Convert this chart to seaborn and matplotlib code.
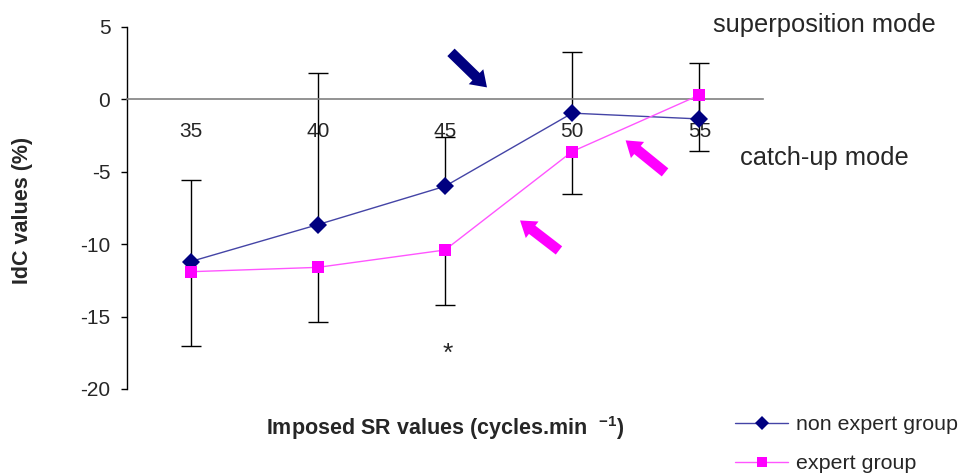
import numpy as np
import pandas as pd
import matplotlib
matplotlib.use("Agg")
import matplotlib.pyplot as plt
import seaborn as sns
from matplotlib.patches import FancyArrowPatch

# ---- data ----
sr_values = ["35", "40", "45", "50", "55"]
non_expert = [-11.2, -8.65, -6.0, -0.95, -1.35]
expert = [-11.9, -11.6, -10.4, -3.6, 0.3]
non_expert_err_up = [5.6, 10.45, 3.4, 4.25, 3.85]
expert_err_down = [5.1, 3.75, 3.8, 2.95, 3.85]
group_names = ["non expert group", "expert group"]
y_ticks = [-20, -15, -10, -5, 0, 5]

sns.set_style("white")
plt.rcParams["font.family"] = ["Liberation Sans", "DejaVu Sans"]
plt.rcParams["axes.unicode_minus"] = False
plt.rcParams["mathtext.fontset"] = "custom"
plt.rcParams["mathtext.rm"] = "Liberation Sans"
plt.rcParams["mathtext.bf"] = "Liberation Sans:bold"

df = pd.DataFrame({
    "SR": sr_values * 2,
    "IdC": non_expert + expert,
    "group": [group_names[0]] * len(sr_values) + [group_names[1]] * len(sr_values),
})

fig = plt.figure(figsize=(9.62, 4.74), dpi=100)
W, H = 962, 474
ax = fig.add_axes([127 / W, 85 / H, 636 / W, 362 / H])

palette = {group_names[0]: "#000080", group_names[1]: "#ff00ff"}
line_colors = {group_names[0]: "#4444a6", group_names[1]: "#ff55ff"}
markers = {group_names[0]: "D", group_names[1]: "s"}

# one-sided error bars (non-expert upward, expert downward)
xpos = np.arange(len(sr_values))
ne_top = np.array(non_expert) + np.array(non_expert_err_up)
ex_bot = np.array(expert) - np.array(expert_err_down)
ax.vlines(xpos, non_expert, ne_top, colors="black", linewidth=1, zorder=1)
ax.vlines(xpos, expert, ex_bot, colors="black", linewidth=1, zorder=1)
ax.plot(xpos, ne_top, ls="none", marker="_", markersize=14, mew=1, color="black", zorder=1)
ax.plot(xpos, ex_bot, ls="none", marker="_", markersize=14, mew=1, color="black", zorder=1)

sns.lineplot(data=df, x="SR", y="IdC", hue="group", style="group",
             palette=palette, markers=markers, dashes=False, ax=ax,
             linewidth=1.0, markersize=9, markeredgewidth=0, zorder=3,
             sort=False)

handles, labels = ax.get_legend_handles_labels()
if ax.get_legend() is not None:
    ax.get_legend().remove()

# lighter thin connecting lines, saturated markers
for ln in ax.lines:
    if ln.get_marker() in (None, "None", "", "_"):
        continue
    fc = matplotlib.colors.to_hex(ln.get_markerfacecolor()).lower()
    for g, c in palette.items():
        if fc == matplotlib.colors.to_hex(c).lower():
            ln.set_color(line_colors[g])
            ln.set_markerfacecolor(c)
            ln.set_markeredgecolor(c)
for h, lab in zip(handles, labels):
    if lab in palette:
        h.set_color(line_colors[lab])
        h.set_markerfacecolor(palette[lab])
        h.set_markeredgecolor(palette[lab])
        h.set_markersize(7)

ax.set_xlim(-0.5, len(sr_values) - 0.5)
ax.set_ylim(-20, 5)

# axes styling
ax.spines["top"].set_visible(False)
ax.spines["right"].set_visible(False)
ax.spines["bottom"].set_position(("data", 0))
ax.spines["bottom"].set_color("#808080")
ax.spines["bottom"].set_linewidth(1.2)
ax.spines["left"].set_color("black")
ax.spines["left"].set_linewidth(1)

ax.set_xticks(xpos)
ax.set_xticklabels(sr_values)
ax.set_xticks(np.arange(-0.5, len(sr_values), 1.0), minor=True)
ax.tick_params(axis="x", which="major", length=0, pad=16, labelsize=15)
ax.tick_params(axis="x", which="minor", length=4.5, width=1, color="#808080", direction="out")
ax.set_yticks(y_ticks)
ax.set_yticklabels([str(t) for t in y_ticks])
ax.tick_params(axis="y", which="major", length=4, width=1, color="black",
               direction="out", pad=8, labelsize=15, left=True)
ax.grid(False)

ax.set_xlabel(r"Imposed SR values (cycles.min  $\mathbf{^{-1}}$)", fontsize=15.5, fontweight="bold")
ax.xaxis.set_label_coords(0.5, -0.108)
ax.xaxis.label.set_va("center")
ax.set_ylabel("IdC values (%)", fontsize=15.5, fontweight="bold")
ax.yaxis.set_label_coords(-0.165, 0.492)
ax.yaxis.label.set_va("center")

# annotations
fig.text(713 / W, 1 - 25 / H, "superposition mode", fontsize=18.4, ha="left", va="center")
fig.text(740 / W, 1 - 158 / H, "catch-up mode", fontsize=18.4, ha="left", va="center")
ax.text(2.02, -17.6, "*", fontsize=19, ha="center", va="center")

arrows = [
    ((2.047, 3.25), (2.33, 0.83), "#000080"),
    ((2.896, -10.43), (2.59, -8.36), "#ff00ff"),
    ((3.73, -5.04), (3.42, -2.83), "#ff00ff"),
]
for tail, head, col in arrows:
    ar = FancyArrowPatch(tail, head, arrowstyle="simple,head_length=11,head_width=15,tail_width=7.5",
                         mutation_scale=1, color=col, lw=0, zorder=4, clip_on=False,
                         shrinkA=0, shrinkB=0)
    ax.add_patch(ar)

fig.legend(handles, labels, loc="upper left", bbox_to_anchor=(735 / W, 1 - 415 / H),
           frameon=False, handlelength=2.5, fontsize=15.4, labelspacing=0.95,
           borderpad=0, handletextpad=0.33, borderaxespad=0)

fig.savefig("out.png", dpi=100)
